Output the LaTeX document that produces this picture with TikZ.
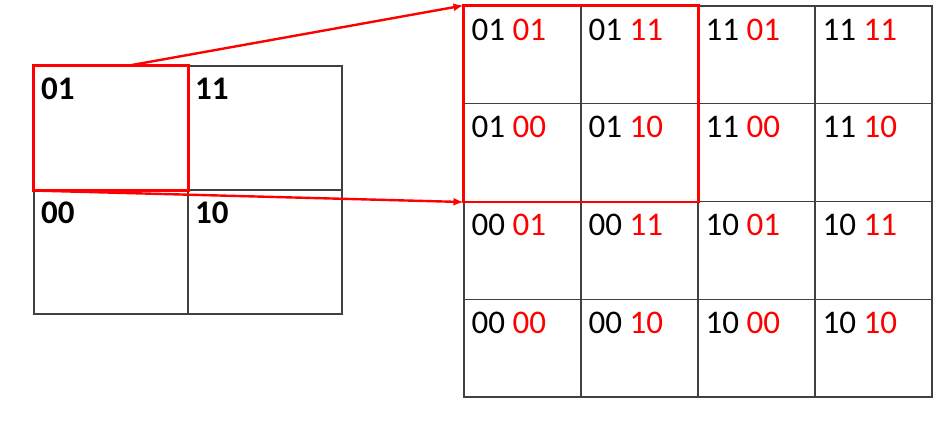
\documentclass[tikz,border=0pt]{standalone}
\usepackage{fontspec}
\setmainfont{Carlito}
\usepackage{xcolor}
\usepackage{tikz}
\usetikzlibrary{arrows.meta}

\tikzset{
    bigcell/.style={draw=black!75, line width=1.1pt, rectangle, minimum width=154pt, minimum height=124pt, inner sep=0pt},
    smallcell/.style={draw=black!75, line width=1.1pt, rectangle, minimum width=117pt, minimum height=97.75pt, inner sep=0pt},
    tag/.style={anchor=north west, inner sep=0pt, font=\fontsize{33}{34}\selectfont},
    bigtag/.style={tag, font=\fontsize{33}{34}\selectfont\bfseries},
    hl/.style={draw=red, line width=2.4pt},
}
\newcommand{\lo}[1]{\textcolor{red}{#1}}

\begin{document}
\begin{tikzpicture}[x=1pt, y=-1pt, >={Latex[length=10pt, width=8pt]}]
    \useasboundingbox (0,0) rectangle (952,440);

    % coarse grid
    \node[bigcell] at (111, 128) (L01) {};
    \node[bigcell] at (265, 128) (L11) {};
    \node[bigcell] at (111, 252) (L00) {};
    \node[bigcell] at (265, 252) (L10) {};

    \node[bigtag] at ([shift={(7.5,12.7)}]L01.north west) (tL01) {01};
    \node[bigtag] at ([shift={(7.5,12.7)}]L11.north west) (tL11) {11};
    \node[bigtag] at ([shift={(7.5,12.7)}]L00.north west) (tL00) {00};
    \node[bigtag] at ([shift={(7.5,12.7)}]L10.north west) (tL10) {10};

    % fine grid
    \node[smallcell] at (522.5, 54.9) (R11) {};
    \node[smallcell] at (639.5, 54.9) (R12) {};
    \node[smallcell] at (756.5, 54.9) (R13) {};
    \node[smallcell] at (873.5, 54.9) (R14) {};
    \node[smallcell] at (522.5, 152.6) (R21) {};
    \node[smallcell] at (639.5, 152.6) (R22) {};
    \node[smallcell] at (756.5, 152.6) (R23) {};
    \node[smallcell] at (873.5, 152.6) (R24) {};
    \node[smallcell] at (522.5, 250.4) (R31) {};
    \node[smallcell] at (639.5, 250.4) (R32) {};
    \node[smallcell] at (756.5, 250.4) (R33) {};
    \node[smallcell] at (873.5, 250.4) (R34) {};
    \node[smallcell] at (522.5, 348.1) (R41) {};
    \node[smallcell] at (639.5, 348.1) (R42) {};
    \node[smallcell] at (756.5, 348.1) (R43) {};
    \node[smallcell] at (873.5, 348.1) (R44) {};

    \node[tag] at ([shift={(8,13.2)}]R11.north west) (tR11) {01 \lo{01}};
    \node[tag] at ([shift={(8,13.2)}]R12.north west) (tR12) {01 \lo{11}};
    \node[tag] at ([shift={(8,13.2)}]R13.north west) (tR13) {11 \lo{01}};
    \node[tag] at ([shift={(8,13.2)}]R14.north west) (tR14) {11 \lo{11}};
    \node[tag] at ([shift={(8,13.2)}]R21.north west) (tR21) {01 \lo{00}};
    \node[tag] at ([shift={(8,13.2)}]R22.north west) (tR22) {01 \lo{10}};
    \node[tag] at ([shift={(8,13.2)}]R23.north west) (tR23) {11 \lo{00}};
    \node[tag] at ([shift={(8,13.2)}]R24.north west) (tR24) {11 \lo{10}};
    \node[tag] at ([shift={(8,13.2)}]R31.north west) (tR31) {00 \lo{01}};
    \node[tag] at ([shift={(8,13.2)}]R32.north west) (tR32) {00 \lo{11}};
    \node[tag] at ([shift={(8,13.2)}]R33.north west) (tR33) {10 \lo{01}};
    \node[tag] at ([shift={(8,13.2)}]R34.north west) (tR34) {10 \lo{11}};
    \node[tag] at ([shift={(8,13.2)}]R41.north west) (tR41) {00 \lo{00}};
    \node[tag] at ([shift={(8,13.2)}]R42.north west) (tR42) {00 \lo{10}};
    \node[tag] at ([shift={(8,13.2)}]R43.north west) (tR43) {10 \lo{00}};
    \node[tag] at ([shift={(8,13.2)}]R44.north west) (tR44) {10 \lo{10}};

    % zoom marks
    \draw[hl] (L01.north west) rectangle (L01.south east);
    \draw[hl] (R11.north west) rectangle (R22.south east);
    \coordinate (zoomtop) at ([xshift=96pt]L01.north west);
    \draw[hl, ->] (zoomtop) -- (R11.north west);
    \draw[hl, ->] (L01.south west) -- (R21.south west);
\end{tikzpicture}
\end{document}
